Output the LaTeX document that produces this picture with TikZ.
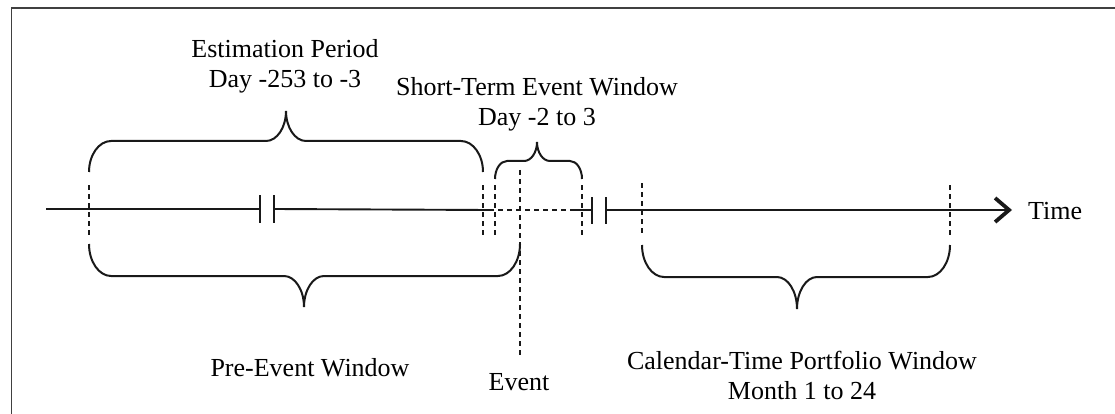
\documentclass[tikz,border=0pt]{standalone}
\usepackage{fontspec}
\setmainfont{Liberation Serif}
\usetikzlibrary{arrows.meta}
\def\bR{22}
\def\bS{20}
% xL xR yE yB xT yT
\newcommand{\wbrace}[6]{%
 \draw[bracestyle] (#1,#3) .. controls (#1,{#4+0.45*(#3-#4)}) and ({#1+0.45*\bR},#4) .. ({#1+\bR},#4)
   -- ({#5-\bS},#4) .. controls ({#5-0.45*\bS},#4) and (#5,{#4+0.45*(#6-#4)}) .. (#5,#6)
   .. controls (#5,{#4+0.45*(#6-#4)}) and ({#5+0.45*\bS},#4) .. ({#5+\bS},#4)
   -- ({#2-\bR},#4) .. controls ({#2-0.45*\bR},#4) and (#2,{#4+0.45*(#3-#4)}) .. (#2,#3);}
\begin{document}
\begin{tikzpicture}[x=1pt,y=-1pt,
  bracestyle/.style={line width=2pt,black!90},
  axisline/.style={line width=1.9pt,black!90},
  breakmark/.style={line width=2.2pt,black!90},
  guide/.style={line width=1.4pt,dash pattern=on 5pt off 4pt,black!90},
  lbl/.style={font=\fontsize{26}{30}\selectfont,inner sep=0pt,anchor=base,text=black}]
\useasboundingbox (0,0) rectangle (1115,414);
% frame
\draw[line width=1.6pt,black!75] (11.5,414) -- (11.5,8) -- (1115,8);
% axis
\draw[axisline] (46,209) -- (260,209);
\draw[axisline] (274,209) -- (489,210);
\draw[guide,line width=1.7pt] (489,210) -- (572,210);
\draw[axisline] (572,210) -- (592,210);
\draw[axisline,-{Straight Barb[length=14pt,width=24pt,line width=3.8pt]}] (606,210) -- (1012,210);
% break marks
\draw[breakmark] (260,195) -- (260,223) (274,195) -- (274,223);
\draw[breakmark] (592,197) -- (592,224) (606,197) -- (606,224);
% guides
\draw[guide] (89,185) -- (89,235);
\draw[guide] (483,185) -- (483,235);
\draw[guide] (495,185) -- (495,235);
\draw[guide] (582,185) -- (582,235);
\draw[guide] (642,183) -- (642,233);
\draw[guide] (950,185) -- (950,235);
\draw[guide] (520,170) -- (520,356);
% braces
\wbrace{89}{483}{172}{141}{286}{111}
\wbrace{89}{520}{244}{276}{304}{307}
\wbrace{642}{950}{245}{277}{797}{309}
\def\bR{12}\def\bS{13}
\wbrace{495}{582}{179}{161}{537}{142}
% labels
\node[lbl] (est1) at (285,58) {Estimation Period};
\node[lbl] (est2) at (285,88) {Day -253 to -3};
\node[lbl] (ste1) at (537,96) {Short-Term Event Window};
\node[lbl] (ste2) at (537,126) {Day -2 to 3};
\node[lbl] (pre) at (310,376) {Pre-Event Window};
\node[lbl] (ev) at (519,390) {Event};
\node[lbl] (cal1) at (802,369.5) {Calendar-Time Portfolio Window};
\node[lbl] (cal2) at (802,399.5) {Month 1 to 24};
\node[lbl,anchor=base west] (time) at (1028,219) {Time};
\end{tikzpicture}
\end{document}
